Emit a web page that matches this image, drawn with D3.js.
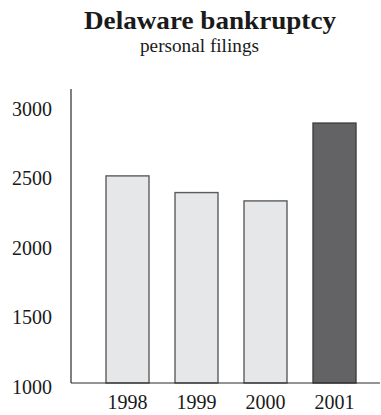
<!DOCTYPE html>
<html>
<head>
<meta charset="utf-8">
<script src="https://cdn.jsdelivr.net/npm/d3@7"></script>
<style>
  html, body { margin: 0; padding: 0; background: #ffffff; }
  svg { display: block; }
  text { font-family: "Liberation Serif", "Times New Roman", serif; fill: #1a1a1a; }
</style>
</head>
<body>
<script>
// Personal bankruptcy filings in Delaware, by year
const years = ["1998", "1999", "2000", "2001"];
const filings = [2490, 2370, 2310, 2870];
const yTicks = [1000, 1500, 2000, 2500, 3000];
const highlightYear = "2001";

const width = 381, height = 415;
const svg = d3.select("body").append("svg")
  .attr("width", width)
  .attr("height", height);

// Title block
svg.append("text")
  .attr("x", 210).attr("y", 29)
  .attr("text-anchor", "middle")
  .attr("textLength", 252)
  .attr("lengthAdjust", "spacingAndGlyphs")
  .style("font-size", "26px")
  .style("font-weight", "bold")
  .text("Delaware bankruptcy");

svg.append("text")
  .attr("x", 199.5).attr("y", 52)
  .attr("text-anchor", "middle")
  .attr("textLength", 119)
  .attr("lengthAdjust", "spacingAndGlyphs")
  .style("font-size", "19px")
  .text("personal filings");

// Scales
const y = d3.scaleLinear().domain([1000, 3000]).range([383, 105]);
const x = d3.scaleBand().domain(years).range([93, 369])
  .paddingInner(0.377).paddingOuter(0.1885);

const axisLeftX = 71, axisRightX = 380;

// Bars
svg.append("g").selectAll("rect")
  .data(years.map((yr, i) => ({ year: yr, value: filings[i] })))
  .join("rect")
  .attr("x", d => x(d.year))
  .attr("y", d => y(d.value))
  .attr("width", x.bandwidth())
  .attr("height", d => y(1000) - y(d.value))
  .attr("fill", d => d.year === highlightYear ? "#636365" : "#e6e7e9")
  .attr("stroke", d => d.year === highlightYear ? "#3f3f40" : "#5c5c5e")
  .attr("stroke-width", 1.4);

// Y axis: line and labels, no tick marks
const yAxis = d3.axisLeft(y).tickValues(yTicks).tickSize(0).tickPadding(19).tickFormat(d3.format("d"));
const gy = svg.append("g")
  .attr("transform", `translate(${axisLeftX},0)`)
  .call(yAxis);
gy.select(".domain").remove();
gy.selectAll("text")
  .attr("dy", "0.52em")
  .style("font-size", "20px")
  .style("font-family", "'Liberation Serif', 'Times New Roman', serif")
  .attr("fill", "#1a1a1a");

svg.append("line")
  .attr("x1", axisLeftX).attr("x2", axisLeftX)
  .attr("y1", 89).attr("y2", y(1000))
  .attr("stroke", "#2a2a2a").attr("stroke-width", 1.2);

// X axis: baseline and year labels
const xAxis = d3.axisBottom(x).tickSize(0).tickPadding(12);
const gx = svg.append("g")
  .attr("transform", `translate(0,${y(1000)})`)
  .call(xAxis);
gx.select(".domain").remove();
gx.selectAll("text")
  .style("font-size", "20px")
  .style("font-family", "'Liberation Serif', 'Times New Roman', serif")
  .attr("fill", "#1a1a1a");

svg.append("line")
  .attr("x1", axisLeftX).attr("x2", axisRightX)
  .attr("y1", y(1000)).attr("y2", y(1000))
  .attr("stroke", "#2a2a2a").attr("stroke-width", 1.2);
</script>
</body>
</html>
